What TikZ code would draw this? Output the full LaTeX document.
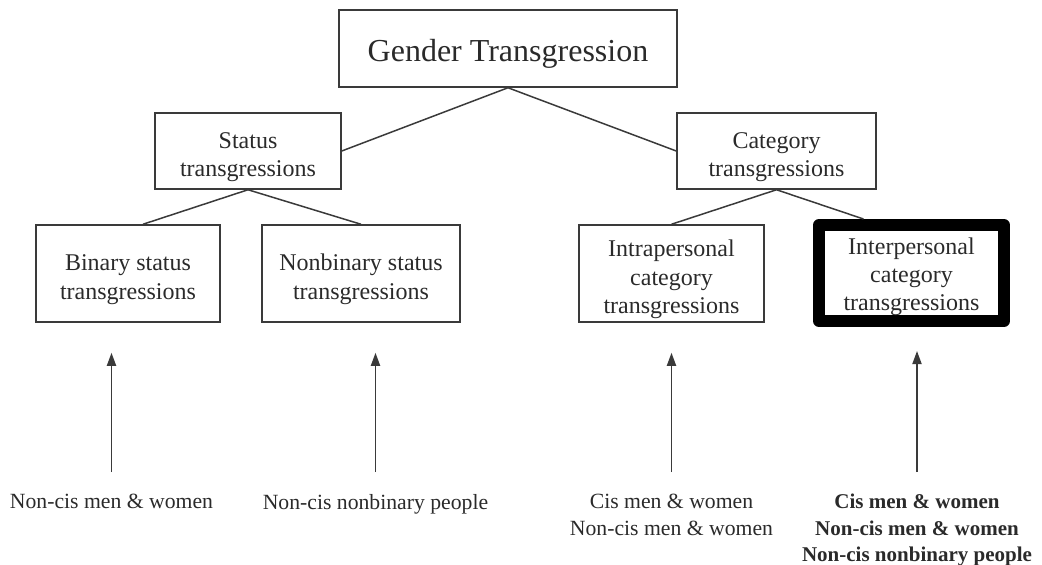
\documentclass[tikz,border=0pt]{standalone}
\usepackage{fontspec}
\setmainfont{Liberation Serif}
\usetikzlibrary{arrows.meta}
\definecolor{ink}{HTML}{2A2A2A}
\definecolor{edge}{HTML}{3A3A3A}
% invisible struts that push a label down inside its box
\newcommand\boxstrut{\rule{0pt}{28.4pt}}
\newcommand\thickstrut{\rule{0pt}{24.4pt}}
\newcommand\titlestrut{\rule{0pt}{32pt}}
\begin{document}
\begin{tikzpicture}[x=1pt,y=-1pt,
  box/.style={draw=edge, line width=1.5pt, inner sep=0pt, align=center,
    text=ink, font=\fontsize{24}{28.5}\selectfont},
  bigbox/.style={box, line width=12pt, draw=black, line join=round},
  link/.style={draw=edge, line width=1.5pt},
  arr/.style={draw=edge, line width=1.8pt, -{Triangle[width=9pt,length=13pt]}},
  who/.style={inner sep=0pt, anchor=north, align=center, text=ink,
    font=\fontsize{21.7}{26.5}\selectfont},
  whobold/.style={who, font=\fontsize{21}{26.5}\selectfont\bfseries}]
\useasboundingbox (0,0) rectangle (1042,565);

% tree of transgression types
\node[box, minimum width=338, minimum height=77,
  font=\fontsize{32}{36}\selectfont] (gt) at (508,48.5)
  {\titlestrut Gender Transgression};
\node[box, minimum width=186, minimum height=76] (st) at (248,151)
  {\boxstrut Status\\transgressions};
\node[box, minimum width=199, minimum height=76] (ct) at (776.5,151)
  {\boxstrut Category\\transgressions};
\node[box, minimum width=184, minimum height=97] (bst) at (128,273.5)
  {\boxstrut Binary status\\transgressions};
\node[box, minimum width=198, minimum height=97] (nst) at (361,273.5)
  {\boxstrut Nonbinary status\\transgressions};
\node[box, minimum width=185, minimum height=97] (intra) at (671.5,273.5)
  {\boxstrut Intrapersonal\\category\\transgressions};
\node[bigbox, minimum width=185, minimum height=96,
  font=\fontsize{24}{28}\selectfont] (inter) at (911.5,273)
  {\thickstrut Interpersonal\\category\\transgressions};

\draw[link] (gt.south) -- (st.east);
\draw[link] (gt.south) -- (ct.west);
\draw[link] (st.south) -- ([xshift=15pt]bst.north);
\draw[link] (st.south) -- (nst.north);
\draw[link] (ct.south) -- (intra.north);
\draw[link] (ct.south) -- ([xshift=-48pt]inter.north);

% groups of people
\node[who] (p1) at (111.5,494) {Non-cis men \& women};
\node[who] (p2) at (375.5,494) {Non-cis nonbinary people};
\node[who] (p3) at (671.5,494) {Cis men \& women\\Non-cis men \& women};
\node[whobold] (p4) at (917,494)
  {Cis men \& women\\Non-cis men \& women\\Non-cis nonbinary people};

\draw[arr, shorten <=22pt] (p1.north) -- ([yshift=-30pt]p1.north |- bst.south);
\draw[arr, shorten <=22pt] (p2.north) -- ([yshift=-30pt]p2.north |- nst.south);
\draw[arr, shorten <=22pt] (p3.north) -- ([yshift=-30pt]p3.north |- intra.south);
\draw[arr, shorten <=22pt] (p4.north) -- ([yshift=-24pt]p4.north |- inter.south);
\end{tikzpicture}
\end{document}
